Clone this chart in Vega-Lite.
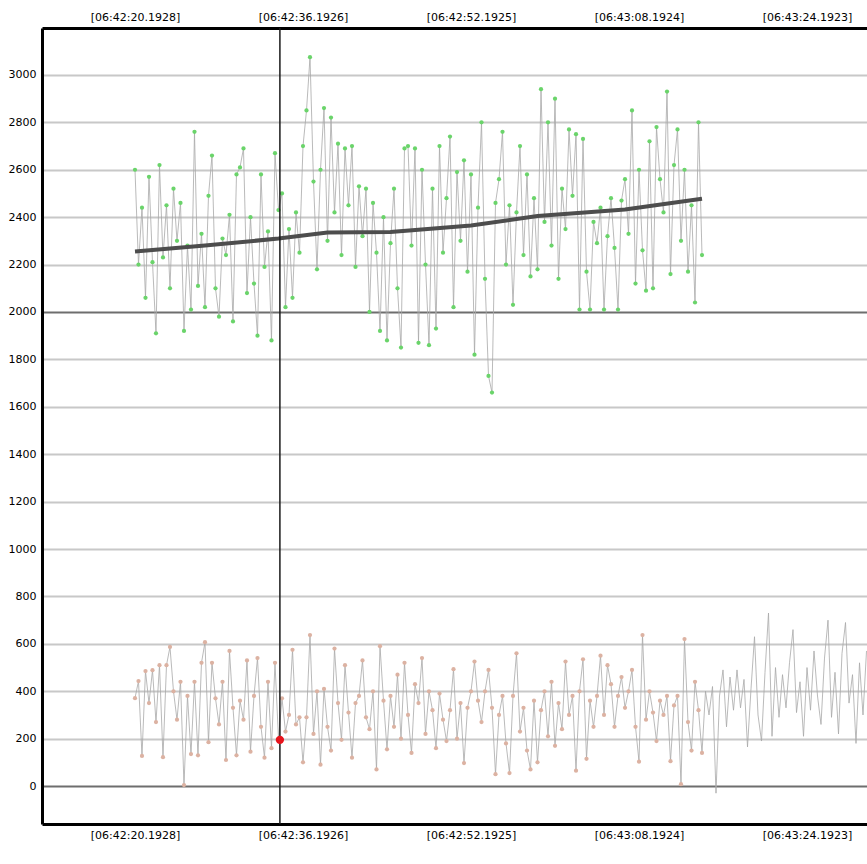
{
  "$schema": "https://vega.github.io/schema/vega-lite/v6.json",
  "width": 825,
  "height": 796,
  "autosize": {"type": "none"},
  "padding": {"left": 42, "top": 28, "right": 0, "bottom": 40},
  "background": "white",
  "config": {
    "view": {"stroke": null},
    "axis": {"labelFont": "DejaVu Sans", "labelFontSize": 11, "labelColor": "#000000", "title": null}
  },
  "datasets": {
    "a": [
      {"i":0,"v":2600},{"i":1,"v":2200},{"i":2,"v":2440},{"i":3,"v":2060},{"i":4,"v":2570},{"i":5,"v":2210},{"i":6,"v":1910},{"i":7,"v":2620},{"i":8,"v":2230},{"i":9,"v":2450},
      {"i":10,"v":2100},{"i":11,"v":2520},{"i":12,"v":2300},{"i":13,"v":2460},{"i":14,"v":1920},{"i":15,"v":2280},{"i":16,"v":2010},{"i":17,"v":2760},{"i":18,"v":2110},{"i":19,"v":2330},
      {"i":20,"v":2020},{"i":21,"v":2490},{"i":22,"v":2660},{"i":23,"v":2100},{"i":24,"v":1980},{"i":25,"v":2310},{"i":26,"v":2240},{"i":27,"v":2410},{"i":28,"v":1960},{"i":29,"v":2580},
      {"i":30,"v":2610},{"i":31,"v":2690},{"i":32,"v":2080},{"i":33,"v":2400},{"i":34,"v":2120},{"i":35,"v":1900},{"i":36,"v":2580},{"i":37,"v":2190},{"i":38,"v":2340},{"i":39,"v":1880},
      {"i":40,"v":2670},{"i":41,"v":2430},{"i":42,"v":2500},{"i":43,"v":2020},{"i":44,"v":2350},{"i":45,"v":2060},{"i":46,"v":2420},{"i":47,"v":2250},{"i":48,"v":2700},{"i":49,"v":2850},
      {"i":50,"v":3075},{"i":51,"v":2550},{"i":52,"v":2180},{"i":53,"v":2600},{"i":54,"v":2860},{"i":55,"v":2300},{"i":56,"v":2820},{"i":57,"v":2420},{"i":58,"v":2710},{"i":59,"v":2240},
      {"i":60,"v":2690},{"i":61,"v":2450},{"i":62,"v":2700},{"i":63,"v":2190},{"i":64,"v":2530},{"i":65,"v":2320},{"i":66,"v":2520},{"i":67,"v":2000},{"i":68,"v":2460},{"i":69,"v":2250},
      {"i":70,"v":1920},{"i":71,"v":2400},{"i":72,"v":1880},{"i":73,"v":2290},{"i":74,"v":2520},{"i":75,"v":2100},{"i":76,"v":1850},{"i":77,"v":2690},{"i":78,"v":2700},{"i":79,"v":2280},
      {"i":80,"v":2690},{"i":81,"v":1870},{"i":82,"v":2600},{"i":83,"v":2200},{"i":84,"v":1860},{"i":85,"v":2520},{"i":86,"v":1930},{"i":87,"v":2700},{"i":88,"v":2250},{"i":89,"v":2480},
      {"i":90,"v":2740},{"i":91,"v":2020},{"i":92,"v":2590},{"i":93,"v":2300},{"i":94,"v":2640},{"i":95,"v":2170},{"i":96,"v":2580},{"i":97,"v":1820},{"i":98,"v":2440},{"i":99,"v":2800},
      {"i":100,"v":2140},{"i":101,"v":1730},{"i":102,"v":1660},{"i":103,"v":2460},{"i":104,"v":2560},{"i":105,"v":2760},{"i":106,"v":2200},{"i":107,"v":2450},{"i":108,"v":2030},{"i":109,"v":2420},
      {"i":110,"v":2700},{"i":111,"v":2240},{"i":112,"v":2580},{"i":113,"v":2150},{"i":114,"v":2480},{"i":115,"v":2180},{"i":116,"v":2940},{"i":117,"v":2380},{"i":118,"v":2800},{"i":119,"v":2280},
      {"i":120,"v":2900},{"i":121,"v":2140},{"i":122,"v":2520},{"i":123,"v":2350},{"i":124,"v":2770},{"i":125,"v":2490},{"i":126,"v":2750},{"i":127,"v":2010},{"i":128,"v":2730},{"i":129,"v":2170},
      {"i":130,"v":2010},{"i":131,"v":2380},{"i":132,"v":2290},{"i":133,"v":2440},{"i":134,"v":2010},{"i":135,"v":2320},{"i":136,"v":2480},{"i":137,"v":2270},{"i":138,"v":2010},{"i":139,"v":2470},
      {"i":140,"v":2560},{"i":141,"v":2330},{"i":142,"v":2850},{"i":143,"v":2120},{"i":144,"v":2600},{"i":145,"v":2260},{"i":146,"v":2090},{"i":147,"v":2720},{"i":148,"v":2100},{"i":149,"v":2780},
      {"i":150,"v":2560},{"i":151,"v":2420},{"i":152,"v":2930},{"i":153,"v":2160},{"i":154,"v":2620},{"i":155,"v":2770},{"i":156,"v":2300},{"i":157,"v":2600},{"i":158,"v":2170},{"i":159,"v":2450},
      {"i":160,"v":2040},{"i":161,"v":2800},{"i":162,"v":2240}
    ],
    "b": [
      {"i":0,"v":371},{"i":1,"v":443},{"i":2,"v":127},{"i":3,"v":485},{"i":4,"v":350},{"i":5,"v":489},{"i":6,"v":270},{"i":7,"v":510},{"i":8,"v":122},{"i":9,"v":510},
      {"i":10,"v":587},{"i":11,"v":400},{"i":12,"v":280},{"i":13,"v":440},{"i":14,"v":4},{"i":15,"v":380},{"i":16,"v":135},{"i":17,"v":440},{"i":18,"v":130},{"i":19,"v":520},
      {"i":20,"v":607},{"i":21,"v":185},{"i":22,"v":520},{"i":23,"v":370},{"i":24,"v":260},{"i":25,"v":440},{"i":26,"v":110},{"i":27,"v":570},{"i":28,"v":330},{"i":29,"v":130},
      {"i":30,"v":360},{"i":31,"v":280},{"i":32,"v":530},{"i":33,"v":145},{"i":34,"v":380},{"i":35,"v":540},{"i":36,"v":250},{"i":37,"v":120},{"i":38,"v":440},{"i":39,"v":160},
      {"i":40,"v":520},{"i":41,"v":200},{"i":42,"v":370},{"i":43,"v":230},{"i":44,"v":300},{"i":45,"v":575},{"i":46,"v":260},{"i":47,"v":290},{"i":48,"v":100},{"i":49,"v":290},
      {"i":50,"v":637},{"i":51,"v":220},{"i":52,"v":400},{"i":53,"v":90},{"i":54,"v":410},{"i":55,"v":250},{"i":56,"v":150},{"i":57,"v":580},{"i":58,"v":350},{"i":59,"v":195},
      {"i":60,"v":510},{"i":61,"v":310},{"i":62,"v":120},{"i":63,"v":350},{"i":64,"v":380},{"i":65,"v":530},{"i":66,"v":290},{"i":67,"v":240},{"i":68,"v":400},{"i":69,"v":70},
      {"i":70,"v":590},{"i":71,"v":360},{"i":72,"v":155},{"i":73,"v":380},{"i":74,"v":250},{"i":75,"v":470},{"i":76,"v":200},{"i":77,"v":520},{"i":78,"v":300},{"i":79,"v":140},
      {"i":80,"v":430},{"i":81,"v":350},{"i":82,"v":540},{"i":83,"v":220},{"i":84,"v":400},{"i":85,"v":320},{"i":86,"v":160},{"i":87,"v":390},{"i":88,"v":280},{"i":89,"v":190},
      {"i":90,"v":320},{"i":91,"v":493},{"i":92,"v":200},{"i":93,"v":350},{"i":94,"v":97},{"i":95,"v":330},{"i":96,"v":400},{"i":97,"v":525},{"i":98,"v":360},{"i":99,"v":270},
      {"i":100,"v":400},{"i":101,"v":490},{"i":102,"v":330},{"i":103,"v":50},{"i":104,"v":300},{"i":105,"v":380},{"i":106,"v":180},{"i":107,"v":55},{"i":108,"v":380},{"i":109,"v":560},
      {"i":110,"v":230},{"i":111,"v":330},{"i":112,"v":150},{"i":113,"v":70},{"i":114,"v":360},{"i":115,"v":100},{"i":116,"v":320},{"i":117,"v":400},{"i":118,"v":210},{"i":119,"v":440},
      {"i":120,"v":170},{"i":121,"v":350},{"i":122,"v":240},{"i":123,"v":525},{"i":124,"v":300},{"i":125,"v":380},{"i":126,"v":65},{"i":127,"v":400},{"i":128,"v":535},{"i":129,"v":115},
      {"i":130,"v":360},{"i":131,"v":250},{"i":132,"v":380},{"i":133,"v":550},{"i":134,"v":300},{"i":135,"v":510},{"i":136,"v":430},{"i":137,"v":250},{"i":138,"v":380},{"i":139,"v":460},
      {"i":140,"v":330},{"i":141,"v":400},{"i":142,"v":490},{"i":143,"v":250},{"i":144,"v":103},{"i":145,"v":637},{"i":146,"v":280},{"i":147,"v":400},{"i":148,"v":310},{"i":149,"v":190},
      {"i":150,"v":360},{"i":151,"v":300},{"i":152,"v":380},{"i":153,"v":105},{"i":154,"v":340},{"i":155,"v":380},{"i":156,"v":8},{"i":157,"v":620},{"i":158,"v":270},{"i":159,"v":150},
      {"i":160,"v":440},{"i":161,"v":320},{"i":162,"v":140},{"i":163,"v":400},{"i":164,"v":300},{"i":165,"v":420},{"i":166,"v":-30},{"i":167,"v":380},{"i":168,"v":490},{"i":169,"v":250},
      {"i":170,"v":460},{"i":171,"v":320},{"i":172,"v":490},{"i":173,"v":330},{"i":174,"v":450},{"i":175,"v":165},{"i":176,"v":410},{"i":177,"v":630},{"i":178,"v":300},{"i":179,"v":190},
      {"i":180,"v":480},{"i":181,"v":730},{"i":182,"v":210},{"i":183,"v":500},{"i":184,"v":290},{"i":185,"v":470},{"i":186,"v":330},{"i":187,"v":520},{"i":188,"v":660},{"i":189,"v":310},
      {"i":190,"v":440},{"i":191,"v":210},{"i":192,"v":500},{"i":193,"v":320},{"i":194,"v":570},{"i":195,"v":380},{"i":196,"v":260},{"i":197,"v":540},{"i":198,"v":700},{"i":199,"v":290},
      {"i":200,"v":480},{"i":201,"v":220},{"i":202,"v":560},{"i":203,"v":690},{"i":204,"v":350},{"i":205,"v":470},{"i":206,"v":180},{"i":207,"v":520},{"i":208,"v":300},{"i":209,"v":570}
    ],
    "trend": [
      {"i":0,"v":2255},{"i":20,"v":2280},{"i":41,"v":2310},{"i":55,"v":2335},{"i":73,"v":2337},{"i":96,"v":2365},{"i":115,"v":2405},{"i":140,"v":2432},{"i":162,"v":2478}
    ],
    "cursor": [
      {"i":41.4,"v":195}
    ]
  },
  "resolve": {"axis": {"x": "independent"}},
  "layer": [
    {
      "data": {"name": "b"},
      "mark": {"type": "line", "color": "#a8a8a8", "strokeWidth": 0.8, "clip": true},
      "encoding": {
        "x": {
          "field": "i", "type": "quantitative",
          "scale": {"domain": [-26.57, 209.14], "nice": false, "zero": false},
          "axis": {
            "orient": "bottom",
            "values": [0, 48, 96, 144, 192],
            "labelExpr": "['[06:42:20.1928]','[06:42:36.1926]','[06:42:52.1925]','[06:43:08.1924]','[06:43:24.1923]'][round(datum.value / 48)]",
            "domainColor": "#000000", "domainWidth": 3,
            "ticks": false,
            "labelPadding": 5, "grid": false, "labelFlush": false
          }
        },
        "y": {
          "field": "v", "type": "quantitative",
          "scale": {"domain": [-160, 3198], "nice": false, "zero": false},
          "axis": {
            "values": [0, 200, 400, 600, 800, 1000, 1200, 1400, 1600, 1800, 2000, 2200, 2400, 2600, 2800, 3000],
            "format": "d",
            "domainColor": "#000000", "domainWidth": 3,
            "ticks": false, "labelPadding": 6,
            "grid": true, "gridWidth": 2,
            "gridColor": {"condition": {"test": "datum.value === 0 || datum.value === 2000", "value": "#6e6e6e"}, "value": "#c8c8c8"}
          }
        }
      }
    },
    {
      "data": {"name": "b"},
      "transform": [{"filter": "datum.i <= 162"}],
      "mark": {"type": "circle", "color": "#dcb2a2", "size": 18, "opacity": 1},
      "encoding": {
        "x": {"field": "i", "type": "quantitative", "scale": {"domain": [-26.57, 209.14], "nice": false, "zero": false}, "axis": null},
        "y": {"field": "v", "type": "quantitative", "scale": {"domain": [-160, 3198], "nice": false, "zero": false}}
      }
    },
    {
      "data": {"name": "a"},
      "mark": {"type": "line", "color": "#a8a8a8", "strokeWidth": 0.8, "clip": true},
      "encoding": {
        "x": {
          "field": "i", "type": "quantitative",
          "scale": {"domain": [-26.57, 209.14], "nice": false, "zero": false},
          "axis": {
            "orient": "top",
            "values": [0, 48, 96, 144, 192],
            "labelExpr": "['[06:42:20.1928]','[06:42:36.1926]','[06:42:52.1925]','[06:43:08.1924]','[06:43:24.1923]'][round(datum.value / 48)]",
            "domainColor": "#000000", "domainWidth": 3,
            "ticks": false,
            "labelPadding": 6, "grid": false, "labelFlush": false
          }
        },
        "y": {"field": "v", "type": "quantitative", "scale": {"domain": [-160, 3198], "nice": false, "zero": false}}
      }
    },
    {
      "data": {"name": "a"},
      "mark": {"type": "circle", "color": "#6ad46a", "size": 18, "opacity": 1},
      "encoding": {
        "x": {"field": "i", "type": "quantitative", "scale": {"domain": [-26.57, 209.14], "nice": false, "zero": false}, "axis": null},
        "y": {"field": "v", "type": "quantitative", "scale": {"domain": [-160, 3198], "nice": false, "zero": false}}
      }
    },
    {
      "data": {"name": "trend"},
      "mark": {"type": "line", "color": "#4d4d4d", "strokeWidth": 4},
      "encoding": {
        "x": {"field": "i", "type": "quantitative", "scale": {"domain": [-26.57, 209.14], "nice": false, "zero": false}, "axis": null},
        "y": {"field": "v", "type": "quantitative", "scale": {"domain": [-160, 3198], "nice": false, "zero": false}}
      }
    },
    {
      "data": {"name": "cursor"},
      "mark": {"type": "rule", "color": "#1a1a1a", "strokeWidth": 1.5},
      "encoding": {
        "x": {"field": "i", "type": "quantitative", "scale": {"domain": [-26.57, 209.14], "nice": false, "zero": false}, "axis": null}
      }
    },
    {
      "data": {"name": "cursor"},
      "mark": {"type": "circle", "color": "#e8141c", "size": 70, "opacity": 1},
      "encoding": {
        "x": {"field": "i", "type": "quantitative", "scale": {"domain": [-26.57, 209.14], "nice": false, "zero": false}, "axis": null},
        "y": {"field": "v", "type": "quantitative", "scale": {"domain": [-160, 3198], "nice": false, "zero": false}}
      }
    }
  ]
}
